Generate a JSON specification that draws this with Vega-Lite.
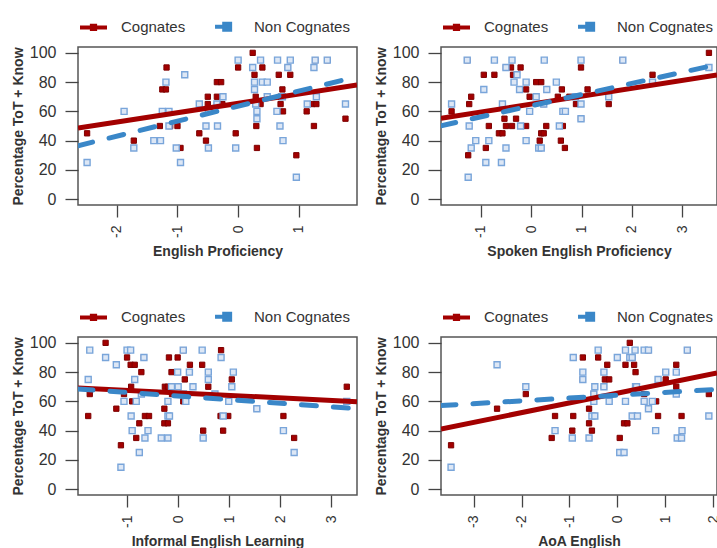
{
  "$schema": "https://vega.github.io/schema/vega-lite/v6.json",
  "background": "white",
  "padding": {"left": 10, "top": 10, "right": 0, "bottom": 0},
  "config": {
    "font": "Liberation Sans",
    "view": {"stroke": "#555", "strokeWidth": 1.5},
    "axis": {"grid": false, "domain": false, "tickColor": "#444", "tickWidth": 1.3, "labelColor": "#333", "titleColor": "#333", "labelFont": "Liberation Sans", "titleFont": "Liberation Sans", "titleFontWeight": "bold", "titleFontSize": 14, "labelOverlap": false, "labelFlush": false, "labelBound": false},
    "axisX": {"labelAngle": 270, "labelFontSize": 14, "tickSize": 12, "labelPadding": 8, "titlePadding": 7, "labelExpr": "datum.value + ''"},
    "axisY": {"values": [0, 10, 20, 30, 40, 50, 60, 70, 80, 90, 100], "labelExpr": "datum.value % 20 === 0 ? datum.label : ''", "labelFontSize": 16, "tickSize": 13, "labelPadding": 9, "titlePadding": 4},
    "legend": {"title": null, "orient": "top", "direction": "horizontal", "offset": 9, "labelFontSize": 15, "labelFont": "Liberation Sans", "labelColor": "#333", "symbolSize": 729, "columnPadding": 21, "labelOffset": 12, "padding": 0}
  },
  "datasets": {
    "p1": [
      {"g":"C","x":-2.49,"y":45},{"g":"C","x":-1.72,"y":40},{"g":"C","x":-1.18,"y":90},{"g":"C","x":-1.25,"y":75},{"g":"C","x":-1.19,"y":75},{"g":"C","x":-1.29,"y":50},{"g":"C","x":-1.12,"y":50},{"g":"C","x":-1.0,"y":50},{"g":"C","x":-0.95,"y":35},{"g":"C","x":-0.64,"y":45},{"g":"C","x":-0.53,"y":40},{"g":"C","x":-0.5,"y":70},{"g":"C","x":-0.5,"y":65},{"g":"C","x":-0.35,"y":80},{"g":"C","x":-0.28,"y":80},{"g":"C","x":-0.35,"y":70},{"g":"C","x":-0.26,"y":65},{"g":"C","x":-0.04,"y":45},{"g":"C","x":0,"y":90},{"g":"C","x":0.24,"y":100},{"g":"C","x":0.27,"y":85},{"g":"C","x":0.29,"y":70},{"g":"C","x":0.3,"y":50},{"g":"C","x":0.31,"y":35},{"g":"C","x":0.4,"y":90},{"g":"C","x":0.37,"y":65},{"g":"C","x":0.67,"y":85},{"g":"C","x":0.7,"y":70},{"g":"C","x":0.7,"y":65},{"g":"C","x":0.73,"y":75},{"g":"C","x":0.74,"y":60},{"g":"C","x":0.82,"y":90},{"g":"C","x":0.86,"y":85},{"g":"C","x":0.96,"y":30},{"g":"C","x":1.13,"y":60},{"g":"C","x":1.25,"y":50},{"g":"C","x":1.22,"y":65},{"g":"C","x":1.29,"y":65},{"g":"C","x":1.27,"y":95},{"g":"C","x":1.47,"y":95},{"g":"C","x":1.77,"y":55},
      {"g":"N","x":-2.49,"y":25},{"g":"N","x":-1.88,"y":60},{"g":"N","x":-1.72,"y":35},{"g":"N","x":-1.39,"y":40},{"g":"N","x":-1.28,"y":40},{"g":"N","x":-1.25,"y":60},{"g":"N","x":-1.14,"y":60},{"g":"N","x":-1.19,"y":80},{"g":"N","x":-1.14,"y":50},{"g":"N","x":-1.02,"y":35},{"g":"N","x":-0.95,"y":25},{"g":"N","x":-0.88,"y":85},{"g":"N","x":-0.64,"y":65},{"g":"N","x":-0.53,"y":50},{"g":"N","x":-0.49,"y":60},{"g":"N","x":-0.49,"y":35},{"g":"N","x":-0.35,"y":65},{"g":"N","x":-0.34,"y":50},{"g":"N","x":-0.25,"y":70},{"g":"N","x":-0.04,"y":35},{"g":"N","x":0,"y":95},{"g":"N","x":0.24,"y":90},{"g":"N","x":0.27,"y":80},{"g":"N","x":0.27,"y":75},{"g":"N","x":0.29,"y":65},{"g":"N","x":0.31,"y":60},{"g":"N","x":0.31,"y":55},{"g":"N","x":0.37,"y":95},{"g":"N","x":0.4,"y":80},{"g":"N","x":0.48,"y":80},{"g":"N","x":0.48,"y":70},{"g":"N","x":0.65,"y":95},{"g":"N","x":0.64,"y":60},{"g":"N","x":0.69,"y":50},{"g":"N","x":0.73,"y":70},{"g":"N","x":0.74,"y":40},{"g":"N","x":0.82,"y":90},{"g":"N","x":0.86,"y":95},{"g":"N","x":0.96,"y":15},{"g":"N","x":1.14,"y":65},{"g":"N","x":1.25,"y":90},{"g":"N","x":1.29,"y":70},{"g":"N","x":1.27,"y":95},{"g":"N","x":1.47,"y":95},{"g":"N","x":1.77,"y":65}
    ],
    "l1": [{"g":"C","x":-2.64,"y":48.6},{"g":"C","x":1.96,"y":78},{"g":"N","x":-2.64,"y":36.5},{"g":"N","x":1.96,"y":83.7}],
    "p2": [
      {"g":"C","x":-1.58,"y":60},{"g":"C","x":-1.25,"y":30},{"g":"C","x":-1.23,"y":65},{"g":"C","x":-1.19,"y":70},{"g":"C","x":-1.27,"y":95},{"g":"C","x":-0.94,"y":85},{"g":"C","x":-0.9,"y":35},{"g":"C","x":-0.84,"y":50},{"g":"C","x":-0.73,"y":85},{"g":"C","x":-0.64,"y":45},{"g":"C","x":-0.57,"y":45},{"g":"C","x":-0.53,"y":55},{"g":"C","x":-0.5,"y":90},{"g":"C","x":-0.5,"y":50},{"g":"C","x":-0.4,"y":90},{"g":"C","x":-0.36,"y":85},{"g":"C","x":-0.38,"y":50},{"g":"C","x":-0.3,"y":55},{"g":"C","x":-0.23,"y":75},{"g":"C","x":-0.21,"y":90},{"g":"C","x":-0.1,"y":75},{"g":"C","x":-0.1,"y":50},{"g":"C","x":-0.03,"y":70},{"g":"C","x":0.1,"y":80},{"g":"C","x":0.2,"y":80},{"g":"C","x":0.17,"y":40},{"g":"C","x":0.2,"y":45},{"g":"C","x":0.25,"y":45},{"g":"C","x":0.25,"y":65},{"g":"C","x":0.3,"y":50},{"g":"C","x":0.53,"y":70},{"g":"C","x":0.59,"y":40},{"g":"C","x":0.61,"y":75},{"g":"C","x":0.63,"y":50},{"g":"C","x":0.67,"y":35},{"g":"C","x":0.76,"y":70},{"g":"C","x":0.89,"y":65},{"g":"C","x":0.99,"y":90},{"g":"C","x":0.99,"y":55},{"g":"C","x":1.12,"y":75},{"g":"C","x":1.54,"y":65},{"g":"C","x":1.82,"y":95},{"g":"C","x":2.41,"y":85},{"g":"C","x":3.53,"y":100},
      {"g":"N","x":-1.58,"y":65},{"g":"N","x":-1.23,"y":50},{"g":"N","x":-1.19,"y":35},{"g":"N","x":-1.25,"y":15},{"g":"N","x":-1.1,"y":40},{"g":"N","x":-0.94,"y":75},{"g":"N","x":-0.9,"y":25},{"g":"N","x":-0.84,"y":40},{"g":"N","x":-0.73,"y":95},{"g":"N","x":-0.59,"y":25},{"g":"N","x":-0.57,"y":65},{"g":"N","x":-0.5,"y":35},{"g":"N","x":-0.5,"y":90},{"g":"N","x":-0.38,"y":95},{"g":"N","x":-0.34,"y":80},{"g":"N","x":-0.28,"y":85},{"g":"N","x":-0.23,"y":75},{"g":"N","x":-0.21,"y":50},{"g":"N","x":-0.1,"y":80},{"g":"N","x":-0.1,"y":40},{"g":"N","x":-0.03,"y":60},{"g":"N","x":0.1,"y":70},{"g":"N","x":0.15,"y":35},{"g":"N","x":0.2,"y":35},{"g":"N","x":0.26,"y":95},{"g":"N","x":0.25,"y":65},{"g":"N","x":0.31,"y":75},{"g":"N","x":0.5,"y":80},{"g":"N","x":0.56,"y":50},{"g":"N","x":0.63,"y":60},{"g":"N","x":0.68,"y":60},{"g":"N","x":0.99,"y":95},{"g":"N","x":0.99,"y":65},{"g":"N","x":0.88,"y":70},{"g":"N","x":0.99,"y":55},{"g":"N","x":1.54,"y":70},{"g":"N","x":2.41,"y":80},{"g":"N","x":3.53,"y":90},{"g":"N","x":1.82,"y":95},{"g":"N","x":-1.27,"y":95}
    ],
    "l2": [{"g":"C","x":-1.79,"y":55.3},{"g":"C","x":3.69,"y":84.9},{"g":"N","x":-1.79,"y":50.2},{"g":"N","x":3.69,"y":92}],
    "p3": [
      {"g":"C","x":-1.76,"y":50},{"g":"C","x":-1.73,"y":65},{"g":"C","x":-1.42,"y":100},{"g":"C","x":-1.21,"y":55},{"g":"C","x":-1.12,"y":30},{"g":"C","x":-1.06,"y":65},{"g":"C","x":-1.0,"y":90},{"g":"C","x":-0.93,"y":85},{"g":"C","x":-0.85,"y":85},{"g":"C","x":-0.92,"y":70},{"g":"C","x":-0.9,"y":60},{"g":"C","x":-0.82,"y":35},{"g":"C","x":-0.76,"y":45},{"g":"C","x":-0.72,"y":80},{"g":"C","x":-0.67,"y":90},{"g":"C","x":-0.65,"y":50},{"g":"C","x":-0.57,"y":50},{"g":"C","x":-0.27,"y":55},{"g":"C","x":-0.26,"y":70},{"g":"C","x":-0.2,"y":70},{"g":"C","x":-0.27,"y":45},{"g":"C","x":-0.2,"y":45},{"g":"C","x":-0.18,"y":90},{"g":"C","x":-0.13,"y":80},{"g":"C","x":-0.12,"y":65},{"g":"C","x":-0.01,"y":90},{"g":"C","x":0.1,"y":95},{"g":"C","x":0.1,"y":60},{"g":"C","x":0.13,"y":75},{"g":"C","x":0.23,"y":85},{"g":"C","x":0.47,"y":85},{"g":"C","x":0.49,"y":40},{"g":"C","x":0.59,"y":70},{"g":"C","x":0.59,"y":75},{"g":"C","x":0.84,"y":95},{"g":"C","x":0.83,"y":50},{"g":"C","x":0.88,"y":40},{"g":"C","x":0.98,"y":50},{"g":"C","x":1.05,"y":75},{"g":"C","x":1.54,"y":55},{"g":"C","x":2.06,"y":50},{"g":"C","x":2.27,"y":35},{"g":"C","x":3.3,"y":70},
      {"g":"N","x":-1.76,"y":75},{"g":"N","x":-1.73,"y":95},{"g":"N","x":-1.42,"y":90},{"g":"N","x":-1.21,"y":85},{"g":"N","x":-1.12,"y":15},{"g":"N","x":-1.06,"y":60},{"g":"N","x":-1.0,"y":95},{"g":"N","x":-0.93,"y":95},{"g":"N","x":-0.92,"y":50},{"g":"N","x":-0.9,"y":40},{"g":"N","x":-0.85,"y":75},{"g":"N","x":-0.82,"y":60},{"g":"N","x":-0.76,"y":25},{"g":"N","x":-0.72,"y":65},{"g":"N","x":-0.65,"y":35},{"g":"N","x":-0.59,"y":40},{"g":"N","x":-0.67,"y":90},{"g":"N","x":-0.33,"y":35},{"g":"N","x":-0.2,"y":35},{"g":"N","x":-0.2,"y":60},{"g":"N","x":-0.2,"y":50},{"g":"N","x":-0.17,"y":50},{"g":"N","x":-0.13,"y":70},{"g":"N","x":-0.01,"y":80},{"g":"N","x":0,"y":70},{"g":"N","x":0.1,"y":65},{"g":"N","x":0.15,"y":60},{"g":"N","x":0.22,"y":80},{"g":"N","x":0.29,"y":70},{"g":"N","x":0.47,"y":95},{"g":"N","x":0.49,"y":35},{"g":"N","x":0.59,"y":80},{"g":"N","x":0.72,"y":65},{"g":"N","x":0.84,"y":90},{"g":"N","x":0.88,"y":50},{"g":"N","x":0.99,"y":60},{"g":"N","x":1.05,"y":70},{"g":"N","x":1.08,"y":80},{"g":"N","x":1.54,"y":55},{"g":"N","x":2.06,"y":40},{"g":"N","x":2.27,"y":25},{"g":"N","x":3.3,"y":60},{"g":"N","x":0.1,"y":95},{"g":"N","x":0.59,"y":75}
    ],
    "l3": [{"g":"C","x":-1.96,"y":69.2},{"g":"C","x":3.5,"y":59.8},{"g":"N","x":-1.96,"y":68.5},{"g":"N","x":3.5,"y":55}],
    "p4": [
      {"g":"C","x":-3.47,"y":30},{"g":"C","x":-2.51,"y":55},{"g":"C","x":-1.91,"y":65},{"g":"C","x":-1.37,"y":35},{"g":"C","x":-1.3,"y":50},{"g":"C","x":-0.94,"y":40},{"g":"C","x":-0.92,"y":50},{"g":"C","x":-0.72,"y":90},{"g":"C","x":-0.72,"y":75},{"g":"C","x":-0.59,"y":55},{"g":"C","x":-0.59,"y":45},{"g":"C","x":-0.53,"y":40},{"g":"C","x":-0.49,"y":65},{"g":"C","x":-0.47,"y":50},{"g":"C","x":-0.4,"y":90},{"g":"C","x":-0.28,"y":70},{"g":"C","x":-0.26,"y":75},{"g":"C","x":-0.17,"y":75},{"g":"C","x":-0.21,"y":85},{"g":"C","x":0,"y":90},{"g":"C","x":0.05,"y":35},{"g":"C","x":0.14,"y":45},{"g":"C","x":0.21,"y":45},{"g":"C","x":0.17,"y":85},{"g":"C","x":0.26,"y":100},{"g":"C","x":0.31,"y":90},{"g":"C","x":0.35,"y":85},{"g":"C","x":0.38,"y":80},{"g":"C","x":0.4,"y":70},{"g":"C","x":0.56,"y":65},{"g":"C","x":0.65,"y":95},{"g":"C","x":0.65,"y":55},{"g":"C","x":0.81,"y":60},{"g":"C","x":0.85,"y":50},{"g":"C","x":1.01,"y":75},{"g":"C","x":1.23,"y":85},{"g":"C","x":1.23,"y":70},{"g":"C","x":1.34,"y":50},{"g":"C","x":1.46,"y":95},{"g":"C","x":1.91,"y":65},
      {"g":"N","x":-3.47,"y":15},{"g":"N","x":-2.51,"y":85},{"g":"N","x":-1.91,"y":70},{"g":"N","x":-1.3,"y":40},{"g":"N","x":-0.92,"y":90},{"g":"N","x":-0.94,"y":35},{"g":"N","x":-0.72,"y":80},{"g":"N","x":-0.59,"y":35},{"g":"N","x":-0.53,"y":50},{"g":"N","x":-0.49,"y":60},{"g":"N","x":-0.47,"y":70},{"g":"N","x":-0.4,"y":95},{"g":"N","x":-0.28,"y":80},{"g":"N","x":-0.17,"y":60},{"g":"N","x":0.05,"y":25},{"g":"N","x":0.14,"y":25},{"g":"N","x":0.17,"y":60},{"g":"N","x":0.17,"y":95},{"g":"N","x":0.26,"y":90},{"g":"N","x":0.37,"y":95},{"g":"N","x":0.31,"y":50},{"g":"N","x":0.42,"y":50},{"g":"N","x":0.38,"y":70},{"g":"N","x":0.56,"y":95},{"g":"N","x":0.56,"y":60},{"g":"N","x":0.73,"y":60},{"g":"N","x":0.8,"y":40},{"g":"N","x":0.85,"y":75},{"g":"N","x":1.01,"y":80},{"g":"N","x":1.23,"y":80},{"g":"N","x":1.23,"y":65},{"g":"N","x":1.25,"y":35},{"g":"N","x":1.34,"y":35},{"g":"N","x":1.35,"y":40},{"g":"N","x":1.91,"y":50},{"g":"N","x":-0.72,"y":75},{"g":"N","x":-0.49,"y":65},{"g":"N","x":-0.47,"y":50},{"g":"N","x":-0.28,"y":70},{"g":"N","x":0,"y":90},{"g":"N","x":0.31,"y":90},{"g":"N","x":0.4,"y":70},{"g":"N","x":0.65,"y":55},{"g":"N","x":1.46,"y":95},{"g":"N","x":0.65,"y":95}
    ],
    "l4": [{"g":"C","x":-3.68,"y":41.1},{"g":"C","x":2.08,"y":79.5},{"g":"N","x":-3.68,"y":57.1},{"g":"N","x":2.08,"y":68.2}]
  },
  "columns": 2,
  "bounds": "flush",
  "spacing": {"row": 132, "column": 84},
  "resolve": {"scale": {"x": "independent", "y": "independent", "color": "independent"}, "legend": {"color": "independent"}, "axis": {"x": "independent", "y": "independent"}},
  "concat": [
    {
      "width": 279, "height": 158,
      "encoding": {
        "x": {"field": "x", "type": "quantitative", "scale": {"domain": [-2.64, 1.96], "nice": false, "zero": false}, "axis": {"values": [-2, -1, 0, 1], "title": "English Proficiency"}},
        "y": {"field": "y", "type": "quantitative", "scale": {"domain": [-4, 104], "nice": false, "zero": false}, "axis": {"title": "Percentage ToT + Know"}}
      },
      "layer": [
        {"data": {"name": "p1"}, "transform": [{"filter": "datum.g === 'C'"}], "mark": {"type": "square", "size": 28, "fill": "#A30000", "stroke": "#7E0000", "strokeWidth": 1, "opacity": 1}},
        {"data": {"name": "p1"}, "transform": [{"filter": "datum.g === 'N'"}], "mark": {"type": "square", "size": 36, "fill": "#DDE7F5", "stroke": "#79A5DA", "strokeWidth": 1.4, "opacity": 1}},
        {"data": {"name": "l1"}, "transform": [{"filter": "datum.g === 'C'"}], "mark": {"type": "line", "strokeWidth": 5, "clip": true},
         "encoding": {"color": {"field": "g", "type": "nominal", "scale": {"domain": ["C", "N"], "range": ["#A30000", "#3A87C8"]},
             "legend": {"labelExpr": "datum.label === 'C' ? 'Cognates' : 'Non Cognates'",
               "encode": {"symbols": {"update": {
                 "shape": [{"test": "datum.value === 'N'", "value": "M-0.85,0H-0.17M-0.17,-0.22H0.27V0.22H-0.17Z"}, {"value": "M-1,0H1M-0.12,-0.12H0.12V0.12H-0.12Z"}],
                 "fill": [{"test": "datum.value === 'N'", "value": "#3A87C8"}, {"value": "#A30000"}],
                 "stroke": [{"test": "datum.value === 'N'", "value": "#3A87C8"}, {"value": "#A30000"}],
                 "strokeWidth": {"value": 4}, "strokeDash": {"value": [1, 0]}, "opacity": {"value": 1}, "fillOpacity": {"value": 1}}}}}}}},
        {"data": {"name": "l1"}, "transform": [{"filter": "datum.g === 'N'"}], "mark": {"type": "line", "strokeWidth": 5, "clip": true, "strokeDash": [15, 17], "strokeCap": "round"},
         "encoding": {"color": {"field": "g", "type": "nominal"}}}
      ]
    },
    {
      "width": 276, "height": 158,
      "encoding": {
        "x": {"field": "x", "type": "quantitative", "scale": {"domain": [-1.79, 3.69], "nice": false, "zero": false}, "axis": {"values": [-1, 0, 1, 2, 3], "title": "Spoken English Proficiency"}},
        "y": {"field": "y", "type": "quantitative", "scale": {"domain": [-4, 104], "nice": false, "zero": false}, "axis": {"title": "Percentage ToT + Know"}}
      },
      "layer": [
        {"data": {"name": "p2"}, "transform": [{"filter": "datum.g === 'C'"}], "mark": {"type": "square", "size": 28, "fill": "#A30000", "stroke": "#7E0000", "strokeWidth": 1, "opacity": 1}},
        {"data": {"name": "p2"}, "transform": [{"filter": "datum.g === 'N'"}], "mark": {"type": "square", "size": 36, "fill": "#DDE7F5", "stroke": "#79A5DA", "strokeWidth": 1.4, "opacity": 1}},
        {"data": {"name": "l2"}, "transform": [{"filter": "datum.g === 'C'"}], "mark": {"type": "line", "strokeWidth": 5, "clip": true},
         "encoding": {"color": {"field": "g", "type": "nominal", "scale": {"domain": ["C", "N"], "range": ["#A30000", "#3A87C8"]},
             "legend": {"labelExpr": "datum.label === 'C' ? 'Cognates' : 'Non Cognates'",
               "encode": {"symbols": {"update": {
                 "shape": [{"test": "datum.value === 'N'", "value": "M-0.85,0H-0.17M-0.17,-0.22H0.27V0.22H-0.17Z"}, {"value": "M-1,0H1M-0.12,-0.12H0.12V0.12H-0.12Z"}],
                 "fill": [{"test": "datum.value === 'N'", "value": "#3A87C8"}, {"value": "#A30000"}],
                 "stroke": [{"test": "datum.value === 'N'", "value": "#3A87C8"}, {"value": "#A30000"}],
                 "strokeWidth": {"value": 4}, "strokeDash": {"value": [1, 0]}, "opacity": {"value": 1}, "fillOpacity": {"value": 1}}}}}}}},
        {"data": {"name": "l2"}, "transform": [{"filter": "datum.g === 'N'"}], "mark": {"type": "line", "strokeWidth": 5, "clip": true, "strokeDash": [15, 17], "strokeCap": "round"},
         "encoding": {"color": {"field": "g", "type": "nominal"}}}
      ]
    },
    {
      "width": 279, "height": 158,
      "encoding": {
        "x": {"field": "x", "type": "quantitative", "scale": {"domain": [-1.96, 3.5], "nice": false, "zero": false}, "axis": {"values": [-1, 0, 1, 2, 3], "title": "Informal English Learning"}},
        "y": {"field": "y", "type": "quantitative", "scale": {"domain": [-4, 104], "nice": false, "zero": false}, "axis": {"title": "Percentage ToT + Know"}}
      },
      "layer": [
        {"data": {"name": "p3"}, "transform": [{"filter": "datum.g === 'C'"}], "mark": {"type": "square", "size": 28, "fill": "#A30000", "stroke": "#7E0000", "strokeWidth": 1, "opacity": 1}},
        {"data": {"name": "p3"}, "transform": [{"filter": "datum.g === 'N'"}], "mark": {"type": "square", "size": 36, "fill": "#DDE7F5", "stroke": "#79A5DA", "strokeWidth": 1.4, "opacity": 1}},
        {"data": {"name": "l3"}, "transform": [{"filter": "datum.g === 'C'"}], "mark": {"type": "line", "strokeWidth": 5, "clip": true},
         "encoding": {"color": {"field": "g", "type": "nominal", "scale": {"domain": ["C", "N"], "range": ["#A30000", "#3A87C8"]},
             "legend": {"labelExpr": "datum.label === 'C' ? 'Cognates' : 'Non Cognates'",
               "encode": {"symbols": {"update": {
                 "shape": [{"test": "datum.value === 'N'", "value": "M-0.85,0H-0.17M-0.17,-0.22H0.27V0.22H-0.17Z"}, {"value": "M-1,0H1M-0.12,-0.12H0.12V0.12H-0.12Z"}],
                 "fill": [{"test": "datum.value === 'N'", "value": "#3A87C8"}, {"value": "#A30000"}],
                 "stroke": [{"test": "datum.value === 'N'", "value": "#3A87C8"}, {"value": "#A30000"}],
                 "strokeWidth": {"value": 4}, "strokeDash": {"value": [1, 0]}, "opacity": {"value": 1}, "fillOpacity": {"value": 1}}}}}}}},
        {"data": {"name": "l3"}, "transform": [{"filter": "datum.g === 'N'"}], "mark": {"type": "line", "strokeWidth": 5, "clip": true, "strokeDash": [15, 17], "strokeCap": "round"},
         "encoding": {"color": {"field": "g", "type": "nominal"}}}
      ]
    },
    {
      "width": 276, "height": 158,
      "encoding": {
        "x": {"field": "x", "type": "quantitative", "scale": {"domain": [-3.68, 2.08], "nice": false, "zero": false}, "axis": {"values": [-3, -2, -1, 0, 1, 2], "title": "AoA English"}},
        "y": {"field": "y", "type": "quantitative", "scale": {"domain": [-4, 104], "nice": false, "zero": false}, "axis": {"title": "Percentage ToT + Know"}}
      },
      "layer": [
        {"data": {"name": "p4"}, "transform": [{"filter": "datum.g === 'C'"}], "mark": {"type": "square", "size": 28, "fill": "#A30000", "stroke": "#7E0000", "strokeWidth": 1, "opacity": 1}},
        {"data": {"name": "p4"}, "transform": [{"filter": "datum.g === 'N'"}], "mark": {"type": "square", "size": 36, "fill": "#DDE7F5", "stroke": "#79A5DA", "strokeWidth": 1.4, "opacity": 1}},
        {"data": {"name": "l4"}, "transform": [{"filter": "datum.g === 'C'"}], "mark": {"type": "line", "strokeWidth": 5, "clip": true},
         "encoding": {"color": {"field": "g", "type": "nominal", "scale": {"domain": ["C", "N"], "range": ["#A30000", "#3A87C8"]},
             "legend": {"labelExpr": "datum.label === 'C' ? 'Cognates' : 'Non Cognates'",
               "encode": {"symbols": {"update": {
                 "shape": [{"test": "datum.value === 'N'", "value": "M-0.85,0H-0.17M-0.17,-0.22H0.27V0.22H-0.17Z"}, {"value": "M-1,0H1M-0.12,-0.12H0.12V0.12H-0.12Z"}],
                 "fill": [{"test": "datum.value === 'N'", "value": "#3A87C8"}, {"value": "#A30000"}],
                 "stroke": [{"test": "datum.value === 'N'", "value": "#3A87C8"}, {"value": "#A30000"}],
                 "strokeWidth": {"value": 4}, "strokeDash": {"value": [1, 0]}, "opacity": {"value": 1}, "fillOpacity": {"value": 1}}}}}}}},
        {"data": {"name": "l4"}, "transform": [{"filter": "datum.g === 'N'"}], "mark": {"type": "line", "strokeWidth": 5, "clip": true, "strokeDash": [15, 17], "strokeCap": "round"},
         "encoding": {"color": {"field": "g", "type": "nominal"}}}
      ]
    }
  ]
}
